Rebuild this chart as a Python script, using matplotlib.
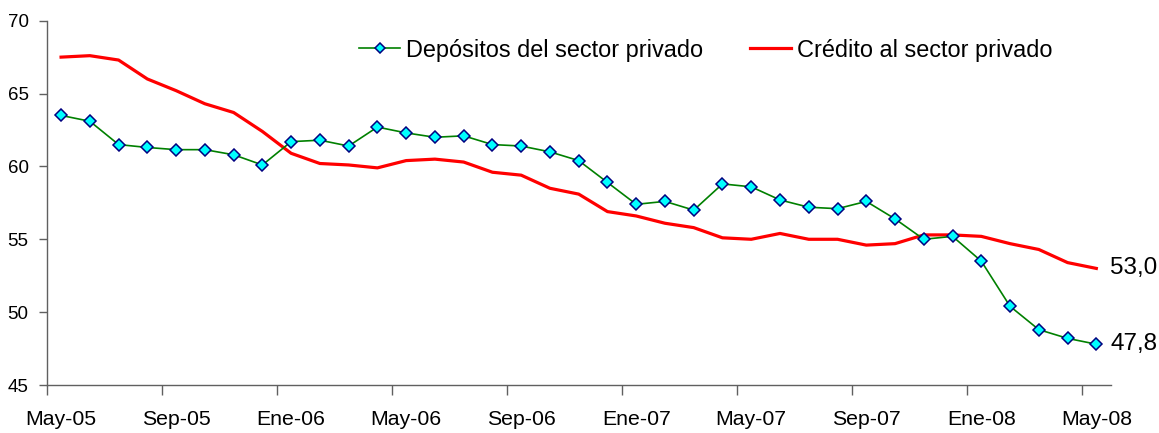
import matplotlib
matplotlib.use("Agg")
import matplotlib.pyplot as plt
import numpy as np

plt.rcParams['font.family'] = ['Liberation Sans', 'DejaVu Sans']

tick_labels = ["May-05", "Sep-05", "Ene-06", "May-06", "Sep-06", "Ene-07",
               "May-07", "Sep-07", "Ene-08", "May-08"]

depositos = [63.5, 63.1, 61.5, 61.3, 61.15, 61.15, 60.8, 60.1, 61.7, 61.8, 61.4, 62.7,
             62.3, 62.0, 62.1, 61.5, 61.4, 61.0, 60.4, 58.9, 57.4, 57.6, 57.0, 58.8,
             58.6, 57.7, 57.2, 57.1, 57.6, 56.4, 55.0, 55.2, 53.5, 50.4, 48.8, 48.2, 47.8]

credito = [67.5, 67.6, 67.3, 66.0, 65.2, 64.3, 63.7, 62.4, 60.9, 60.2, 60.1, 59.9,
           60.4, 60.5, 60.3, 59.6, 59.4, 58.5, 58.1, 56.9, 56.6, 56.1, 55.8, 55.1,
           55.0, 55.4, 55.0, 55.0, 54.6, 54.7, 55.3, 55.3, 55.2, 54.7, 54.3, 53.4, 53.0]

label_dep = "Depósitos del sector privado"
label_cred = "Crédito al sector privado"

x = np.arange(len(depositos))

fig = plt.figure(figsize=(11.59, 4.33), dpi=100)
ax = fig.add_axes([46.7/1159, 1-385/433, (1110.7-46.7)/1159, (385-20.7)/433])

l1, = ax.plot(x, depositos, color='#008000', lw=1.2, marker='D', markersize=6.5,
              markerfacecolor='#00FFFF', markeredgecolor='#000080', markeredgewidth=1.1,
              label=label_dep, zorder=3)
l2, = ax.plot(x, credito, color='#FF0000', lw=2.3, label=label_cred, zorder=2)

ax.set_xlim(-0.5, len(x) - 0.5)
ax.set_ylim(45, 70)
ax.set_yticks(np.arange(45, 71, 5))

# tick marks between categories, labels at categories
ax.set_xticks(np.arange(-0.5, len(x), 4))
ax.set_xticklabels([])
ax.set_xticks(np.arange(0, len(x), 4), minor=True)
ax.set_xticklabels(tick_labels, minor=True)
ax.tick_params(axis='x', which='major', length=7, width=1, color='#606060', direction='out')
ax.tick_params(axis='x', which='minor', length=0, pad=18, labelsize=15.3)
ax.tick_params(axis='y', length=6, width=1, color='#606060', direction='out', pad=7, labelsize=13.5)

for s in ['top', 'right']:
    ax.spines[s].set_visible(False)
for s in ['left', 'bottom']:
    ax.spines[s].set_color('#606060')
    ax.spines[s].set_linewidth(1)

ax.annotate(f"{credito[-1]:.1f}".replace('.', ','), xy=(x[-1], credito[-1]),
            xytext=(14, 0), textcoords='offset pixels', ha='left', va='center', fontsize=17.5)
ax.annotate(f"{depositos[-1]:.1f}".replace('.', ','), xy=(x[-1], depositos[-1]),
            xytext=(14, 0), textcoords='offset pixels', ha='left', va='center', fontsize=17.5)

leg = fig.legend(handles=[l1, l2], loc='center left', bbox_to_anchor=(359/1159, 1-50/433),
                 ncol=2, frameon=False, fontsize=16.9, handlelength=1.75, handletextpad=0.25,
                 columnspacing=2.0, markerscale=0.75, borderaxespad=0, borderpad=0)

fig.savefig("out.png", dpi=100)
